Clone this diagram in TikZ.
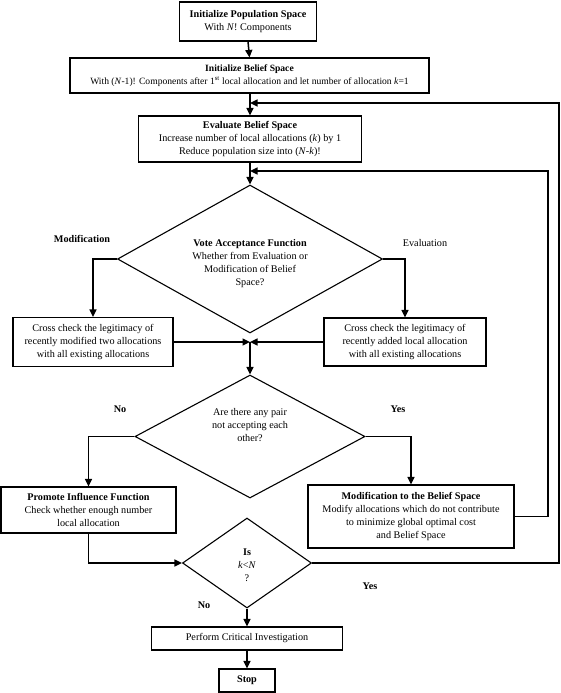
\documentclass[tikz,border=0pt]{standalone}
\usepackage{fontspec}
\setmainfont{Liberation Serif}
\usetikzlibrary{shapes.geometric,arrows.meta}
\begin{document}
\begin{tikzpicture}[x=1pt,y=-1pt,
  every node/.style={font=\fontsize{10.2}{13}\selectfont},
  box/.style={draw,line width=1.1pt,rectangle,align=center,inner sep=1pt},
  dia/.style={draw,line width=1.1pt,diamond,inner sep=0pt,aspect=1},
  lbl/.style={align=center,inner sep=0pt},
  arr/.style={line width=1.5pt,-{Triangle[length=7.5pt,width=7pt]}},
  ln/.style={line width=1.5pt}]
\useasboundingbox (0,0) rectangle (561,693);
% boxes
\node[box,minimum width=137pt,minimum height=39pt] (b1) at (248,21.5)
  {\textbf{Initialize Population Space}\\With \textit{N}! Components};
\node[box,minimum width=359pt,minimum height=35pt,font=\fontsize{9.6}{13}\selectfont] (b2) at (249.5,75.5)
  {\textbf{Initialize Belief Space}\\With (\textit{N}-1)! Components after 1\textsuperscript{st} local allocation and let number of allocation \textit{k}=1};
\node[box,minimum width=223pt,minimum height=46pt] (b3) at (250,139)
  {\textbf{Evaluate Belief Space}\\Increase number of local allocations (\textit{k}) by 1\\Reduce population size into (\textit{N}-\textit{k})!};
\node[dia,minimum width=265pt,minimum height=148pt] (d1) at (250,259) {};
\node[lbl] (d1t) at (250,264)
  {\textbf{Vote Acceptance Function}\\Whether from Evaluation or\\Modification of Belief\\Space?};
\node[box,minimum width=160pt,minimum height=49pt] (bL) at (93,342)
  {Cross check the legitimacy of\\recently modified two allocations\\with all existing allocations};
\node[box,minimum width=162pt,minimum height=48pt] (bR) at (405,342)
  {Cross check the legitimacy of\\recently added local allocation\\with all existing allocations};
\coordinate (m) at (250,342);
\node[dia,minimum width=230pt,minimum height=123pt] (d2) at (250,436.5) {};
\node[lbl] (d2t) at (250,425)
  {Are there any pair\\not accepting each\\other?};
\node[box,minimum width=175pt,minimum height=46pt] (bP) at (88.5,510)
  {\textbf{Promote Influence Function}\\Check whether enough number\\local allocation};
\node[box,minimum width=206pt,minimum height=63pt] (bM) at (411,516.5)
  {\textbf{Modification to the Belief Space}\\Modify allocations which do not contribute\\to minimize global optimal cost\\and Belief Space};
\node[dia,minimum width=129pt,minimum height=90pt] (d3) at (247,563) {};
\node[lbl] (d3t) at (247,565) {\textbf{Is}\\\textit{k}<\textit{N}\\?};
\node[box,minimum width=191pt,minimum height=23pt] (bC) at (247,638.5)
  {Perform Critical Investigation};
\node[box,minimum width=56pt,minimum height=23pt] (bS) at (247,680.5)
  {\textbf{Stop}};
% labels
\node[lbl] (lm) at (82,239) {\textbf{Modification}};
\node[lbl] (le) at (425,243) {Evaluation};
\node[lbl] (ln1) at (120,409) {\textbf{No}};
\node[lbl] (ly1) at (398,409) {\textbf{Yes}};
\node[lbl] (ly2) at (370,586) {\textbf{Yes}};
\node[lbl] (ln2) at (204,605) {\textbf{No}};
% feedback coordinates
\coordinate (f1) at (250,103);
\coordinate (f2) at (250,171);
\coordinate (c1) at (548,171);
\coordinate (c2) at (559,103);
% connectors
\draw[arr] (b1.south) -- (b2.north);
\draw[arr] (b2.south -| b3.north) -- (b3.north);
\draw[arr] (b3.south) -- (d1.north);
\draw[arr] (d1.west) -| (bL.north);
\draw[arr] (d1.east) -| (bR.north);
\draw[arr] (bL.east) -- (m);
\draw[arr] (bR.west) -- (m);
\draw[arr] (m) -- (d2.north);
\draw[arr] (d2.west) -| (bP.north);
\draw[arr] (d2.east) -| (bM.north);
\draw[arr] (bP.south) |- (d3.west);
\draw[arr] (bM.east) -| (c1) -- (f2);
\draw[arr] (d3.east) -| (c2) -- (f1);
\draw[arr] (d3.south) -- (bC.north);
\draw[arr] (bC.south) -- (bS.north);
\end{tikzpicture}
\end{document}
